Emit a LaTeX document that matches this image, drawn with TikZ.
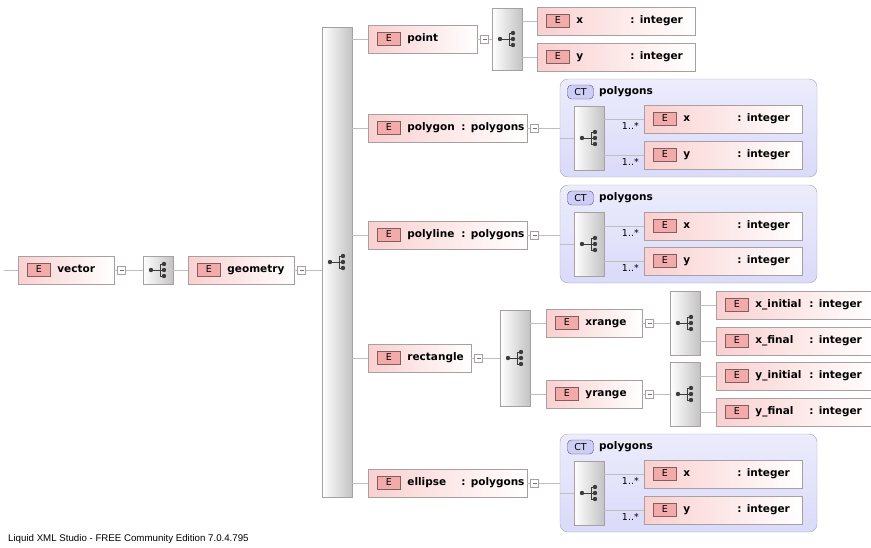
\documentclass[tikz,border=0pt]{standalone}
\usepackage{fontspec}
\setmainfont{DejaVu Sans}
\newfontfamily\footfont{Liberation Sans}
\definecolor{boxgray}{RGB}{168,160,160}
\definecolor{linegray}{RGB}{190,190,190}
\definecolor{elpink}{RGB}{250,208,208}
\definecolor{ebfill}{RGB}{242,170,170}
\definecolor{ebdr}{RGB}{130,95,95}
\definecolor{seqgray}{RGB}{195,195,195}
\definecolor{icongray}{RGB}{60,60,60}
\definecolor{ctfill}{RGB}{218,218,250}
\definecolor{ctlight}{RGB}{236,236,252}
\definecolor{ctbdr}{RGB}{165,165,175}
\definecolor{ctbadgefill}{RGB}{205,205,245}
\definecolor{ctbadgebdr}{RGB}{80,80,130}
\newcommand\ebadge{\hspace*{9pt}{\setlength{\fboxsep}{1.5pt}\setlength{\fboxrule}{0.6pt}\fcolorbox{ebdr}{ebfill}{\makebox[19pt]{\rule[-2.5pt]{0pt}{9.5pt}\fontsize{9.5}{10}\selectfont\mdseries E}}}\hspace{7pt}}
\begin{document}
\begin{tikzpicture}[x=1pt,y=-1pt,
  conn/.style={draw=linegray, line width=0.8pt},
  elem/.style={draw=boxgray, left color=elpink, right color=white, anchor=west, minimum height=28, inner xsep=0, inner ysep=0, text width=#1, align=left, font=\fontsize{10.5}{12}\selectfont\bfseries},
  minus/.style={draw=boxgray, fill=white, minimum size=8, inner sep=0, path picture={\draw[black!55] ([xshift=2]path picture bounding box.west) -- ([xshift=-2]path picture bounding box.east);}},
  seq/.style={draw=boxgray, left color=white, right color=seqgray, minimum width=30, minimum height=#1, inner sep=0},
  ctbox/.style={draw=ctbdr, rounded corners=8, top color=ctlight, bottom color=ctfill, minimum width=257, minimum height=98, inner sep=0},
  ctbadge/.style={draw=ctbadgebdr, fill=ctbadgefill, rounded corners=4, minimum width=26, minimum height=14, inner sep=0, font=\fontsize{9.5}{10}\selectfont},
  cttitle/.style={anchor=west, inner sep=0, font=\fontsize{10.5}{12}\selectfont\bfseries},
  mult/.style={anchor=north east, inner sep=0, xshift=-5, yshift=-3, font=\fontsize{9.5}{10}\selectfont},
  seqicon/.pic={
    \draw[icongray, line width=0.9] (-7,0) -- (2,0) (2,-6) -- (2,6);
    \foreach \v in {-6,0,6} {\draw[icongray, line width=0.9] (2,\v) -- (6,\v); \fill[icongray] (6,\v) circle (2.2);}
    \fill[icongray] (-7,0) circle (2.2);}]
\useasboundingbox (0,0) rectangle (871,547);

\node[elem=96] (vector) at (18,270) {\ebadge vector};
\node[minus] (m1) at (121.5,270) {};
\node[seq=28] (s1) at (158,270) {};
\pic at (s1) {seqicon};
\node[elem=106] (geometry) at (188,270) {\ebadge geometry};
\node[minus] (m2) at (301.5,270) {};
\node[seq=470] (bar) at (337,262) {};
\pic at (bar) {seqicon};

\node[elem=109] (point) at (368,39) {\ebadge point};
\node[minus] (m3) at (484.5,39) {};
\node[seq=62] (sp) at (507,39) {};
\pic at (sp) {seqicon};
\node[elem=158] (px) at (537,21) {\ebadge\makebox[54pt][l]{x}: integer};
\node[elem=158] (py) at (537,57) {\ebadge\makebox[54pt][l]{y}: integer};

\node[elem=159] (polygon) at (368,128) {\ebadge\makebox[54pt][l]{polygon}: polygons};
\node[minus] (m4) at (534.5,128) {};
\node[ctbox] (ct1) at (688.5,128) {};
\node[ctbadge] (ctb1) at (580.5,92) {CT};
\node[cttitle] (ctt1) at (599,92) {polygons};
\node[seq=64] (sq1) at (589,138) {};
\pic at (sq1) {seqicon};
\node[elem=158] (x1) at (644,119) {\ebadge\makebox[54pt][l]{x}: integer};
\node[elem=158] (y1) at (644,155) {\ebadge\makebox[54pt][l]{y}: integer};
\node[mult] (l1) at (x1.west) {1..*};
\node[mult] (l2) at (y1.west) {1..*};

\node[elem=159] (polyline) at (368,235) {\ebadge\makebox[54pt][l]{polyline}: polygons};
\node[minus] (m5) at (534.5,235) {};
\node[ctbox] (ct2) at (688.5,234) {};
\node[ctbadge] (ctb2) at (580.5,198) {CT};
\node[cttitle] (ctt2) at (599,198) {polygons};
\node[seq=64] (sq2) at (589,244) {};
\pic at (sq2) {seqicon};
\node[elem=158] (x2) at (644,226) {\ebadge\makebox[54pt][l]{x}: integer};
\node[elem=158] (y2) at (644,261) {\ebadge\makebox[54pt][l]{y}: integer};
\node[mult] (l3) at (x2.west) {1..*};
\node[mult] (l4) at (y2.west) {1..*};

\node[elem=103] (rectangle) at (368,358) {\ebadge rectangle};
\node[minus] (m6) at (478.5,358) {};
\node[seq=96] (sr) at (515,358) {};
\pic at (sr) {seqicon};
\node[elem=96] (xrange) at (546,323) {\ebadge xrange};
\node[minus] (m7) at (649.5,323) {};
\node[seq=64] (sx) at (685,323) {};
\pic at (sx) {seqicon};
\node[elem=160] (xi) at (716,305) {\ebadge\makebox[54pt][l]{x\_initial}: integer};
\node[elem=160] (xf) at (716,341) {\ebadge\makebox[54pt][l]{x\_final}: integer};
\node[elem=96] (yrange) at (546,394) {\ebadge yrange};
\node[minus] (m8) at (649.5,394) {};
\node[seq=64] (sy) at (685,394) {};
\pic at (sy) {seqicon};
\node[elem=160] (yi) at (716,376) {\ebadge\makebox[54pt][l]{y\_initial}: integer};
\node[elem=160] (yf) at (716,412) {\ebadge\makebox[54pt][l]{y\_final}: integer};

\node[elem=159] (ellipse) at (368,483) {\ebadge\makebox[54pt][l]{ellipse}: polygons};
\node[minus] (m9) at (534.5,483) {};
\node[ctbox] (ct3) at (688.5,483) {};
\node[ctbadge] (ctb3) at (580.5,447) {CT};
\node[cttitle] (ctt3) at (599,447) {polygons};
\node[seq=64] (sq3) at (589,493) {};
\pic at (sq3) {seqicon};
\node[elem=158] (x3) at (644,474) {\ebadge\makebox[54pt][l]{x}: integer};
\node[elem=158] (y3) at (644,510) {\ebadge\makebox[54pt][l]{y}: integer};
\node[mult] (l5) at (x3.west) {1..*};
\node[mult] (l6) at (y3.west) {1..*};

\node[anchor=west, inner sep=0, font=\footfont\fontsize{9.7}{11}\selectfont] (credit) at (8,539) {Liquid XML Studio - FREE Community Edition 7.0.4.795};

\coordinate (in) at (4,270);
\draw[conn] (in) -- (vector);
\draw[conn] (vector) -- (m1) -- (s1) -- (geometry) -- (m2) -- (bar.west |- m2);
\foreach \n in {point,polygon,polyline,rectangle,ellipse}
  \draw[conn] (bar.east |- \n.west) -- (\n);
\draw[conn] (point) -- (m3) -- (sp);
\draw[conn] (sp.east |- px) -- (px);
\draw[conn] (sp.east |- py) -- (py);
\draw[conn] (polygon) -- (m4) -- (ct1.west |- m4);
\draw[conn] (ct1.west |- sq1) -- (sq1);
\draw[conn] (sq1.east |- x1) -- (x1);
\draw[conn] (sq1.east |- y1) -- (y1);
\draw[conn] (polyline) -- (m5) -- (ct2.west |- m5);
\draw[conn] (ct2.west |- sq2) -- (sq2);
\draw[conn] (sq2.east |- x2) -- (x2);
\draw[conn] (sq2.east |- y2) -- (y2);
\draw[conn] (rectangle) -- (m6) -- (sr);
\draw[conn] (sr.east |- xrange) -- (xrange);
\draw[conn] (sr.east |- yrange) -- (yrange);
\draw[conn] (xrange) -- (m7) -- (sx);
\draw[conn] (sx.east |- xi) -- (xi);
\draw[conn] (sx.east |- xf) -- (xf);
\draw[conn] (yrange) -- (m8) -- (sy);
\draw[conn] (sy.east |- yi) -- (yi);
\draw[conn] (sy.east |- yf) -- (yf);
\draw[conn] (ellipse) -- (m9) -- (ct3.west |- m9);
\draw[conn] (ct3.west |- sq3) -- (sq3);
\draw[conn] (sq3.east |- x3) -- (x3);
\draw[conn] (sq3.east |- y3) -- (y3);
\end{tikzpicture}
\end{document}
